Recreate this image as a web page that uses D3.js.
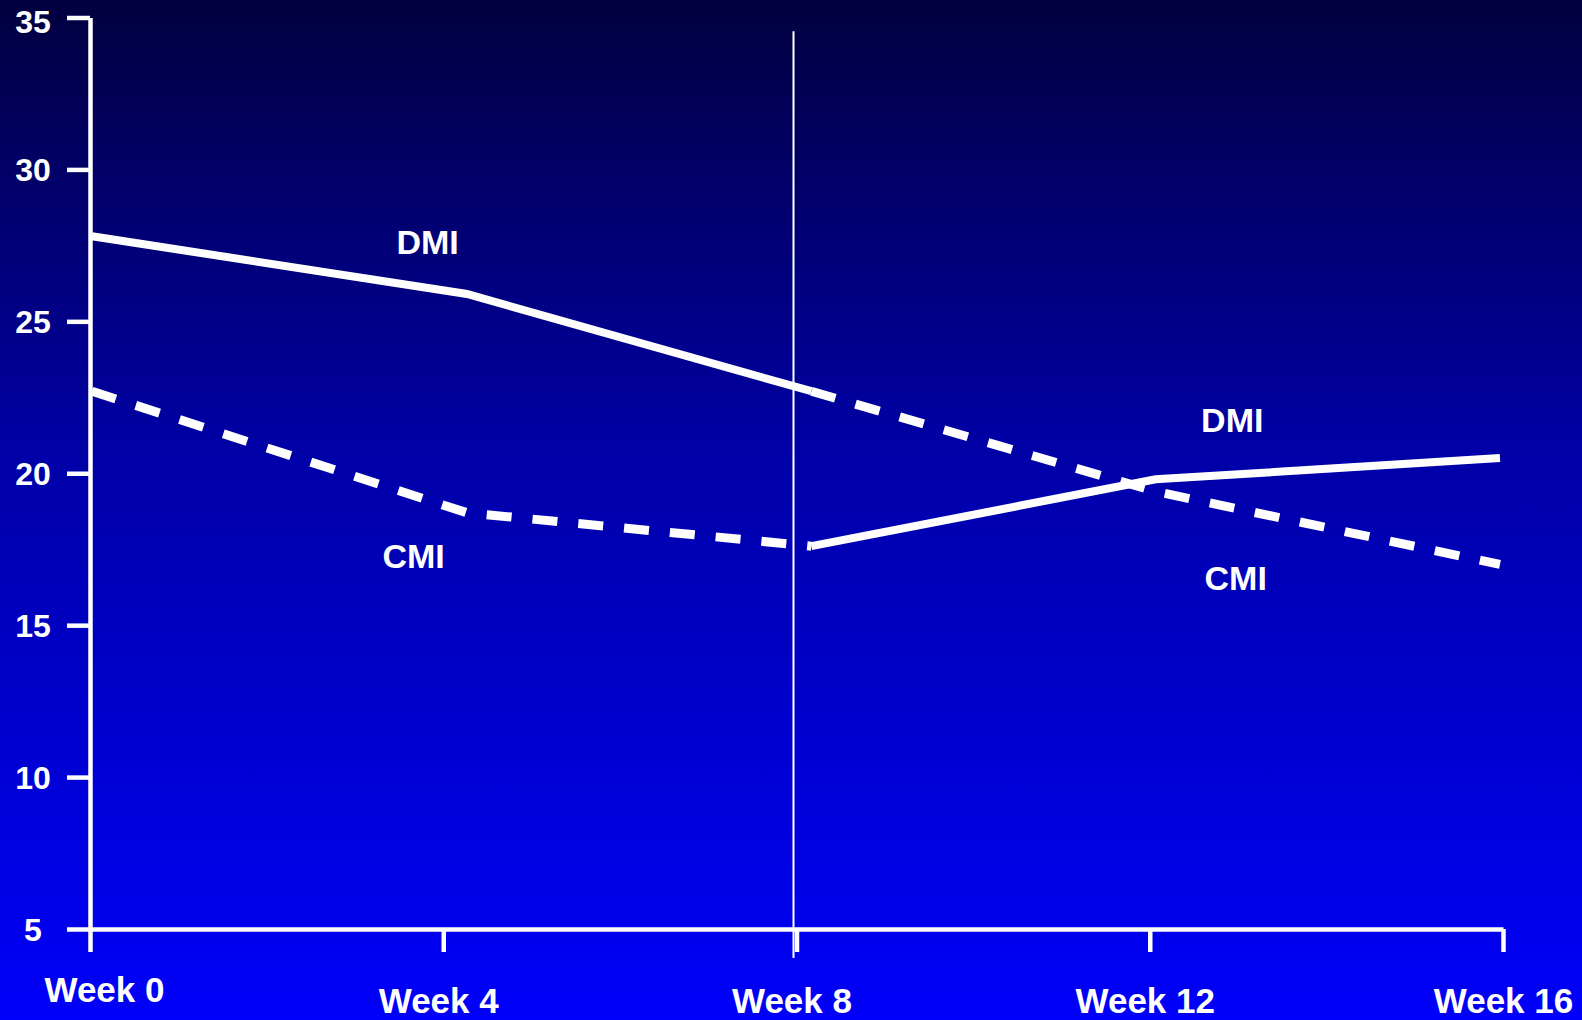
<!DOCTYPE html>
<html>
<head>
<meta charset="utf-8">
<script src="https://cdn.jsdelivr.net/npm/d3@7"></script>
<style>
  html, body { margin: 0; padding: 0; background: #0000a0; }
  svg { display: block; }
  text { font-family: "Liberation Sans", Arial, sans-serif; font-weight: bold; fill: #ffffff; }
</style>
</head>
<body>
<svg id="chart" width="1582" height="1020"></svg>
<script>
// Study visits (weeks) and their axis labels
const weeks = [0, 4, 8, 12, 16];
const weekLabels = ["Week 0", "Week 4", "Week 8", "Week 12", "Week 16"];

// Y axis ticks
const yTicks = [5, 10, 15, 20, 25, 30, 35];

// Group starting on DMI, switched to CMI at week 8
const dmiFirst = [27.8, 25.9, 22.7, 19.4, 17.0];
// Group starting on CMI, switched to DMI at week 8
const cmiFirst = [22.7, 18.7, 17.6, 19.8, 20.5];

// Week at which the two groups cross over
const crossoverWeek = 8;

// Treatment labels placed next to the lines
const treatmentLabels = [
  { text: "DMI", week: 3.58, value: 27.2 },
  { text: "CMI", week: 3.43, value: 16.87 },
  { text: "DMI", week: 12.89, value: 21.35 },
  { text: "CMI", week: 12.93, value: 16.15 }
];

const W = 1582, H = 1020;
const svg = d3.select("#chart");

// Background: dark navy at the top fading to bright blue at the bottom
const defs = svg.append("defs");
const grad = defs.append("linearGradient")
  .attr("id", "bg").attr("x1", 0).attr("y1", 0).attr("x2", 0).attr("y2", 1);
grad.append("stop").attr("offset", "0%").attr("stop-color", "#02003f");
grad.append("stop").attr("offset", "45%").attr("stop-color", "#0000a8");
grad.append("stop").attr("offset", "100%").attr("stop-color", "#0000fa");
svg.append("rect").attr("width", W).attr("height", H).attr("fill", "url(#bg)");

// Scales
const y = d3.scaleLinear().domain([5, 35]).range([929, 17.5]);
const xAxisScale = d3.scaleLinear().domain([0, 16]).range([90, 1503]);
// Plotted points sit slightly off the tick marks in the first interval
const xLine = d3.scaleLinear().domain([0, 4, 16]).range([92, 467, 1500]);

const axisColor = "#ffffff";

// Y axis
const yAxis = svg.append("g")
  .attr("transform", `translate(${xAxisScale(0)},0)`)
  .call(d3.axisLeft(y).tickValues(yTicks).tickSize(23).tickSizeOuter(0).tickPadding(0));
yAxis.select(".domain").attr("stroke", axisColor).attr("stroke-width", 4.5);
yAxis.selectAll(".tick line").attr("stroke", axisColor).attr("stroke-width", 4.5);
yAxis.selectAll(".tick text")
  .attr("x", -57)
  .attr("dy", "0.36em")
  .attr("text-anchor", "middle")
  .style("font-size", "32px")
  .attr("fill", "#ffffff");
yAxis.selectAll(".tick").filter(d => d === 35).select("text").attr("dy", "0.48em");

// X axis
const xAxis = svg.append("g")
  .attr("transform", `translate(0,${y(5)})`)
  .call(d3.axisBottom(xAxisScale).tickValues(weeks).tickSize(23).tickSizeOuter(0)
    .tickFormat((d, i) => weekLabels[i]));
xAxis.select(".domain").attr("stroke", axisColor).attr("stroke-width", 4.5);
xAxis.selectAll(".tick line").attr("stroke", axisColor).attr("stroke-width", 4.5);
xAxis.selectAll(".tick text")
  .attr("y", 84)
  .attr("dy", 0)
  .attr("text-anchor", "middle")
  .style("font-size", "35px")
  .attr("fill", "#ffffff");
xAxis.selectAll(".tick").filter(d => d === 0).select("text")
  .attr("dx", 14).attr("y", 73);
xAxis.selectAll(".tick").filter(d => d === 4 || d === 8 || d === 12).select("text").attr("dx", -5);

// Crossover reference line
svg.append("line")
  .attr("x1", xAxisScale(crossoverWeek) - 3).attr("x2", xAxisScale(crossoverWeek) - 3)
  .attr("y1", y(34.55)).attr("y2", y(5) + 29)
  .attr("stroke", "#ffffff").attr("stroke-width", 2);

// Build the line segments: solid for DMI treatment, dashed for CMI
const line = d3.line().x(d => xLine(d.week)).y(d => y(d.value));
function points(values, from, to) {
  return weeks.map((w, i) => ({ week: w, value: values[i] }))
    .filter(d => d.week >= from && d.week <= to);
}
const segments = [
  { pts: points(dmiFirst, 0, crossoverWeek), dashed: false },
  { pts: points(dmiFirst, crossoverWeek, 16), dashed: true },
  { pts: points(cmiFirst, 0, crossoverWeek), dashed: true },
  { pts: points(cmiFirst, crossoverWeek, 16), dashed: false }
];

svg.append("g").selectAll("path")
  .data(segments)
  .join("path")
  .attr("d", d => line(d.pts))
  .attr("fill", "none")
  .attr("stroke", "#ffffff")
  .attr("stroke-width", d => d.dashed ? 9 : 8)
  .attr("stroke-linejoin", "miter")
  .attr("stroke-linecap", "butt")
  .attr("stroke-dasharray", d => d.dashed ? "25,21" : null);

// Treatment labels
svg.append("g").selectAll("text")
  .data(treatmentLabels)
  .join("text")
  .attr("x", d => xLine(d.week))
  .attr("y", d => y(d.value))
  .attr("text-anchor", "middle")
  .style("font-size", "34px")
  .text(d => d.text);
</script>
</body>
</html>
